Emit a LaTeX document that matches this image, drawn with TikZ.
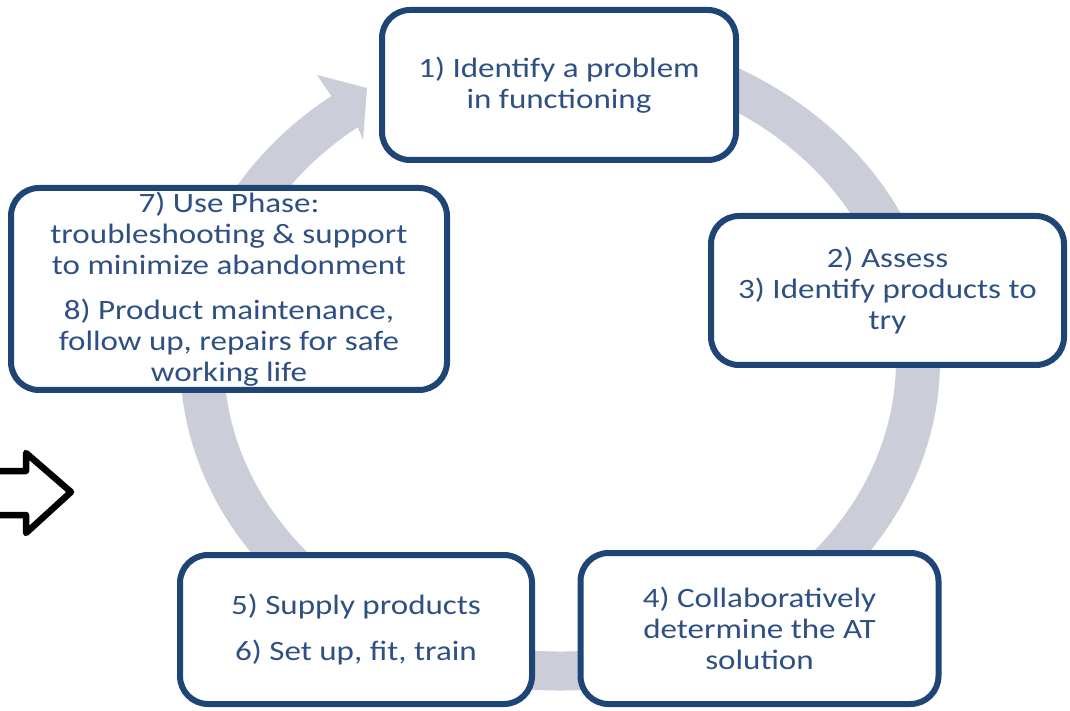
\documentclass[tikz,border=0pt]{standalone}
\usepackage{fontspec}
\setmainfont[FakeStretch=1.18]{Carlito}
\usetikzlibrary{calc}
\definecolor{boxborder}{RGB}{31,68,118}
\definecolor{boxtext}{RGB}{46,80,130}
\definecolor{ringgray}{RGB}{203,206,216}
\begin{document}
\begin{tikzpicture}[x=1pt,y=1pt,
  stepbox/.style={draw=boxborder, line width=6pt, rounded corners=28pt, fill=white,
    align=center, text=boxtext, font=\fontsize{28}{31}\selectfont, inner sep=0pt},
  ringshape/.style={fill=ringgray},
  blockarrow/.style={draw=black, line width=6.5pt, line join=round}]
\clip (0,0) rectangle (1070,710);
\coordinate (C) at (560,350);
% cycle ring with arrowhead
\fill[ringshape] ($(C)+(95:380pt and 330.5pt)$)
  arc[start angle=95, end angle=-233, x radius=380pt, y radius=330.5pt]
  -- (317,635) -- (367,622) -- (363,570)
  -- ($(C)+(-233:336pt and 291.5pt)$)
  arc[start angle=-233, end angle=95, x radius=336pt, y radius=291.5pt]
  -- cycle;
% boxes
\node[stepbox, minimum width=354pt, minimum height=150pt] (b1) at (559,625)
  {1) Identify a problem\\in functioning};
\node[stepbox, minimum width=353pt, minimum height=149pt] (b2) at (887.5,419.5)
  {2) Assess\\3) Identify products to\\try};
\node[stepbox, minimum width=358pt, minimum height=151pt] (b4) at (759.5,81.5)
  {4) Collaboratively\\determine the AT\\solution};
\node[stepbox, minimum width=352pt, minimum height=149pt] (b5) at (356,80.5)
  {5) Supply products\\[15pt]6) Set up, fit, train};
\node[stepbox, minimum width=436pt, minimum height=202pt] (b7) at (229,421)
  {7) Use Phase:\\troubleshooting \& support\\to minimize abandonment\\[14pt]8) Product maintenance,\\follow up, repairs for safe\\working life};
% block arrow at left edge
\draw[blockarrow] (-10,239) -- (26,239) -- (26,257) -- (71,218) -- (26,177) -- (26,195) -- (-10,195);
\end{tikzpicture}
\end{document}
